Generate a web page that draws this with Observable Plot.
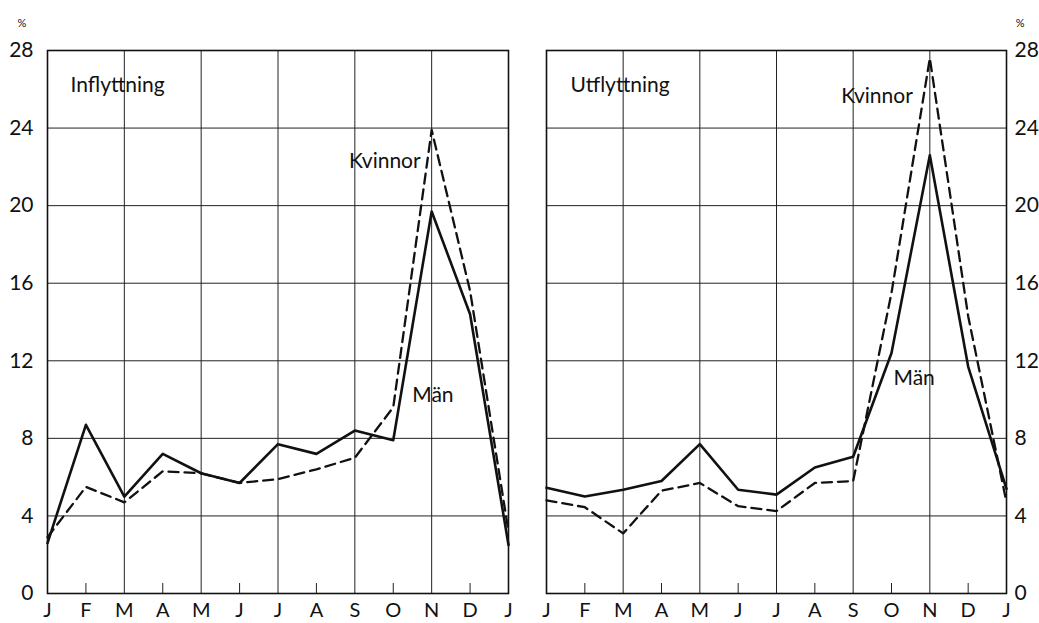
<!DOCTYPE html>
<html><head><meta charset="utf-8">
<script src="https://cdn.jsdelivr.net/npm/d3@7"></script>
<script src="https://cdn.jsdelivr.net/npm/@observablehq/plot@0.6"></script>
<style>
body{margin:0;background:#fff;}
#chart{display:flex;width:1039px;height:623px;overflow:hidden;}
#chart svg{display:block;flex:none;}
</style></head><body><div id="chart"></div>
<script>
// Months (J..J, 13 points)
const monthLabels = ["J","F","M","A","M","J","J","A","S","O","N","D","J"];
const monthIndex = d3.range(13);
const majorMonths = [0,2,4,6,8,10,12];
const minorMonths = [1,3,5,7,9,11];
const yTicks = [0,4,8,12,16,20,24,28];

// Inflyttning (%)
const menIn   = [2.6, 8.7, 5.0, 7.2, 6.2, 5.7, 7.7, 7.2, 8.4, 7.9, 19.7, 14.4, 2.5];
const womenIn = [2.9, 5.5, 4.7, 6.3, 6.2, 5.7, 5.9, 6.4, 7.0, 9.6, 23.9, 15.6, 3.2];
// Utflyttning (%)
const menOut   = [5.45, 5.0, 5.35, 5.8, 7.7, 5.35, 5.1, 6.5, 7.05, 12.4, 22.6, 11.7, 5.4];
const womenOut = [4.8, 4.45, 3.1, 5.3, 5.7, 4.5, 4.25, 5.7, 5.8, 15.5, 27.6, 14.3, 4.7];

const FONT = "Lato, 'Open Sans', sans-serif";
const INK = "#111";

function series(vals) { return monthIndex.map(i => ({m: i, v: vals[i]})); }

function panel(o) {
  const men = series(o.men), women = series(o.women);
  const right = o.side === "right";
  return Plot.plot({
    width: o.width, height: 623,
    marginTop: 50, marginBottom: 30, marginLeft: o.marginLeft, marginRight: o.marginRight,
    style: {fontFamily: FONT, fontSize: "20px", color: INK, background: "#fff"},
    x: {domain: [0, 12]},
    y: {domain: [0, 28]},
    marks: [
      Plot.gridY(yTicks, {stroke: "#222", strokeOpacity: 1, strokeWidth: 1}),
      Plot.gridX(majorMonths, {stroke: "#222", strokeOpacity: 1, strokeWidth: 1}),
      Plot.frame({stroke: INK, strokeWidth: 1.6}),
      Plot.axisY(yTicks, {anchor: o.side, tickSize: 0, tickPadding: right ? 8 : 14, label: null, fontSize: 21}),
      Plot.axisX(monthIndex, {anchor: "bottom", tickSize: 0, tickPadding: 9, tickFormat: i => monthLabels[i], label: null, fontSize: 20, letterSpacing: "1px"}),
      Plot.axisX(minorMonths, {anchor: "bottom", tickSize: 10, dy: -10, tickFormat: () => "", label: null, stroke: "#222"}),
      Plot.line(women, {x: "m", y: "v", stroke: INK, strokeWidth: 2.3, strokeDasharray: "10,6"}),
      Plot.line(men, {x: "m", y: "v", stroke: INK, strokeWidth: 2.6}),
      Plot.text([o.title], {frameAnchor: "top-left", dx: o.titleDx, dy: 41, textAnchor: "start", lineAnchor: "bottom", fontSize: 21, letterSpacing: "1.3px"}),
      Plot.text(["%"], {frameAnchor: right ? "top-right" : "top-left", dx: right ? 18 : -30, dy: -31, fontSize: 11}),
      Plot.text([women[10]], {x: "m", y: "v", text: () => "Kvinnor", textAnchor: "end", lineAnchor: "bottom", dx: o.kDx, dy: o.kDy, fontSize: 21, letterSpacing: "1.8px"}),
      Plot.text([men[9]], {x: "m", y: "v", text: () => "Män", textAnchor: "start", lineAnchor: "bottom", dx: o.mDx, dy: o.mDy, fontSize: 21, letterSpacing: "1.5px"})
    ]
  });
}

const chart = document.getElementById("chart");
chart.append(panel({title: "Inflyttning", men: menIn, women: womenIn, side: "left",
  width: 520, marginLeft: 47, marginRight: 12, titleDx: 23, kDx: -11, kDy: 38, mDx: 19, mDy: -38}));
chart.append(panel({title: "Utflyttning", men: menOut, women: womenOut, side: "right",
  width: 519, marginLeft: 26, marginRight: 33, titleDx: 24, kDx: -17, kDy: 45, mDx: 2, mDy: 32}));
</script>
</body></html>
